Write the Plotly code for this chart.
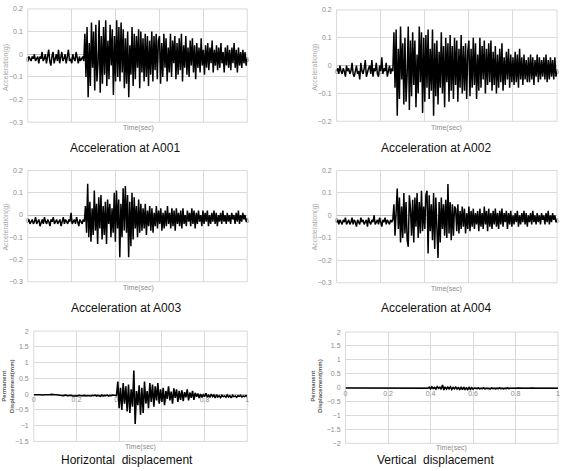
import plotly.graph_objects as go

# ---------------- data ----------------
# accelerations in hundredths of g, uniformly sampled over 0..5 s
A001_CG = [
    -3, -1, -2, -3, -1, -2, 0, -3, -2, -1, -4, -1, -2, 1, -3, -2, 0, -4, -1, 2,
    -3, -5, -1, 1, -4, -2, 0, -3, 2, -4, -1, 1, -3, -2, 0, -4, -1, 2, -3, -2,
    -4, 0, -2, -3, 1, -2, -4, -1, -3, -2, -1, -3,
    9, -10, 12, -19, 5, -14, 14, -6, 10, -16, 13, -12, -4, 15, -17, 8, -13, 12, -9, 15,
    -14, 6, -11, 13, -5, 11, -18, 8, -12, 15, -10, 12, -12, 14, -8, 11, -15, 7, -13, 10,
    -19, 4, -9, 12, -14, 9, -11, 8, -6, 11, -15, 10, -8, 7, -12, 9, -10, 8, -14, 6,
    -9, 10, -12, 8, -7, 9, -11, 6,
    8, -13, 5, -10, 9, -6, 7, -12, 3, -8, 9, -10, 6, -4, 8, -11, 5, -9, 7, -7,
    9, -12, 4, -6, 8, -9, 3, -10, 6, -5, 7, -8, 4, -11, 5, -6, 3, -8, 7, -5,
    2, -9, 4, -6, 5, -7, 3, -4, 6, -8, 2, -5, 4, -7, 3, -6, 5, -4, 1, -8,
    3, -5, 4, -6, 2, -7, 3, -4, 5, -6, 2, -8, 3, -5, 1, -6, 2, -4, 1, -5, -2,
]
A002_CG = [
    -2, -1, -3, 0, -2, -3, -1, -2, -4, 0, -2, -1, -3, -2, 1, -3, -4, -1, 0, -3,
    -2, -5, 1, -2, -3, -1, 2, -4, -2, -1, 0, -3, 2, -4, -1, -2, 1, -3, -4, 0,
    -2, 3, -3, -1, -2, 1, -4, -2, 0, -3, -1, -2,
    12, -8, 13, -18, 6, -12, 14, -5, 8, -14, 10, -13, -3, 14, -16, 9, -11, 12, -7, 9,
    -15, 4, -10, 14, -6, 12, -17, 10, -13, 11, -8, 13, -12, 6, -9, 13, -18, 8, -11, 9,
    -14, 5, -8, 12, -10, 7, -15, 10, -6, 8, -13, 11, -9, 7, -12, 10, -7, 9, -13, 6,
    -8, 11, -10, 7, -9, 8, -12, 5,
    9, -11, 6, -8, 10, -7, 8, -12, 4, -9, 10, -8, 7, -5, 9, -10, 6, -7, 8, -6,
    9, -9, 5, -7, 7, -10, 4, -8, 6, -6, 8, -9, 3, -7, 5, -5, 6, -8, 4, -6,
    3, -7, 5, -6, 4, -8, 6, -5, 3, -7, 4, -5, 2, -6, 3, -6, 4, -5, 3, -7,
    2, -4, 4, -6, 3, -5, 2, -4, 3, -5, 4, -6, 2, -5, 3, -4, 2, -5, 3, -4, -2,
]
A003_CG = [
    -3, -2, -4, -3, -2, -4, -3, -1, -4, -3, -2, -5, -3, -2, -4, -1, -3, -4, -2, -3,
    -5, -2, -3, -1, -4, -3, -2, -4, -3, -2, -5, -3, -1, -4, -2, -3, -4, -2, -3, 1,
    -4, -3, -2, -4, -1, -3, -5, -2, -3, -4, -2, -3,
    4, -8, 14, -10, 6, -12, 3, -9, 11, -7, 5, -13, 8, -6, 9, -11, 4, -9, 6, -13,
    7, -4, 5, -10, 3, -8, 10, -12, 11, -6, 7, -19, 5, -10, 12, -7, 13, -8, 9, -19,
    6, -14, 10, -11, 8, -6, 4, -10, 7, -8, 5, -7,
    3, -6, 5, -9, 2, -5, 4, -7, 3, -8, 1, -5, 4, -6, 2, -4, 3, -7, 1, -6,
    2, -5, 4, -4, 1, -6, 3, -5, 2, -7, 3, -4, 1, -5, 2, -6, 3, -4, 0, -5,
    2, -3, 1, -5, 3, -4, 2, -6, 1, -4, 2, -3, 0, -5, 2, -4, 1, -3, 2, -5,
    0, -4, 1, -3, 2, -4, 1, -5, 0, -3, 1, -4, 2, -3, 0, -4, 1, -3, 0, -4,
    1, -2, 0, -4, 1, -3, 2, -4, 0, -3, 1, -2, 0, -3, -2,
]
A004_CG = [
    -3, -2, -4, -2, -3, -4, -2, -3, -1, -4, -3, -2, -4, -3, -1, -4, -2, -3, -5, -2,
    -3, -4, -1, -3, -2, -4, -3, -2, -5, -1, -3, -4, -2, -3, 0, -4, -3, -2, -4, -1,
    -3, -5, -2, -3, -1, -4, -2, -3, -4, -2, -3, -2,
    5, -9, 6, 12, -6, 8, -12, 4, -10, 10, -8, 6, -11, -14, 9, 3, -9, 7, -12, 8,
    -5, 10, -10, 6, -8, 11, -7, 4, -6, 9, 11, -17, 9, -7, 5, -11, 10, -15, 8, -9,
    -19, 6, -12, 8, -6, 5, -9, 7, -10, 14, -8, 6, -11, 5, -9, 4,
    3, -7, 5, -8, 2, -6, 4, -5, 3, -8, 1, -6, 4, -7, 2, -5, 3, -6, 1, -4,
    2, -7, 3, -5, 1, -6, 4, -4, 2, -7, 3, -5, 1, -6, 2, -4, 3, -5, 1, -6,
    2, -4, 3, -5, 1, -3, 2, -6, 1, -4, 2, -5, 0, -4, 1, -3, 2, -5, 0, -4,
    1, -3, 2, -4, 1, -5, 0, -3, 1, -4, 2, -3, 0, -4, 1, -3, 0, -4, 1, -2,
    0, -4, 1, -3, 2, -4, 0, -3, 1, -2, 0, -3, -2,
]
# displacements in hundredths of mm, uniformly sampled over 0..1 s
HORIZ_CMM = [
    -2, -1, -2, -2, -1, -2, -3, -2, -1, -2, -2, -3, -2, -1, -2, -3, -2, -2, -3, -4,
    -3, -4, -5, -4, -3, -5, -4, -5, -4, -6, -5, -4, -5, -6, -4, -5, -6, -5, -4, -6,
    -5, -4, -5, -6, -4, -5, -3, -6, -4, -5, -7, -3, -6, -4, -5, -3, -6, -4, -5, -3,
    -4, -6, -5,
    40, -45, 20, -50, 35, -30, 25, -55, 30, -60, 15, -40, 75, -95, 10, -35, 28, -65, 20, -60,
    40, -30, 10, -45, 35, -25, 30, -40, 25, -20, 35, -30, 15, -25, 20, -35, 10, -15, 25, -20,
    8, -30, 18, -12, 15, -25, 10, -18, 12, -22, 6, -10, 15, -20, 5, -12, 10, -18, 4, -8,
    2, -12, 0, -10, -2, -8, 3, -9, -4, -10, 0, -8, -3, -12, -2, -9, -5, -11, -4, -8,
    -6, -10, -3, -9, -5, -12, -4, -8, -6, -10, -5, -7, -4, -9, -6, -8, -5, -6,
]
VERT_CMM = [
    -1, -1, -2, -1, -2, -2, -1, -2, -3, -1, -2, -2, -1, -2, -1, -3, -2, -1, -2, -2,
    -3, -2, -1, -2, -2, -1, -3, -2, -2, -1, -2, -3, -1, -2, -2, -1, -2, -3, -2, -1,
    -2, -2, -3, -1, -2, -2, -1, -3, -2, -2, -1, -2, -3, -2, -1, -2, -2, -1, -3, -2,
    -1, -2, -2,
    2, -4, 3, -3, 1, -5, 4, -2, 2, -6, 10, -8, 3, -5, 2, -4, 3, -6, 1, -4,
    2, -5, 0, -6, 1, -7, 2, -6, -1, -7, 1, -6, 0, -5, -1,
    -2, -3, -1, -4, -2, -3, -1, -4, -2, -3, -2, -4, -1, -3, -2, -4, -2, -3, -1, -3,
    -2, -4, -2, -3, -1, -3, -2, -3, -2, -2, -3, -2, -1, -2, -3, -2, -2, -1, -2, -2,
    -3, -2, -1, -2, -2, -2, -2, -1, -2, -2, -2, -2, -2, -2, -2, -2, -2, -2, -2, -2,
    -2, -2, -2,
]

ACC_DURATION = 5.0
DISP_DURATION = 1.0

CAPTIONS = ["Acceleration at A001", "Acceleration at A002",
            "Acceleration at A003", "Acceleration at A004",
            "Horizontal\u00a0 displacement", "Vertical\u00a0 displacement"]
ACC_YTITLE = "Acceleration(g)"
DISP_YTITLE = "<b>Permanent<br>Displacement(mm)</b>"
XTITLE = "Time(sec)"

ACC_XTICKS = [0, 1, 2, 3, 4, 5]
DISP_XTICKS = [0, 0.2, 0.4, 0.6, 0.8, 1]

# ---------------- layout helpers ----------------
W, H = 565, 471


def fx(px):
    return px / W


def fy(py):
    return 1 - py / H


def series(vals, duration, scale=0.01):
    n = len(vals)
    t = [duration * i / (n - 1) for i in range(n)]
    y = [v * scale for v in vals]
    return t, y


# panel geometry: (left, right, top, bottom) in px, y range, y dtick
panels = [
    dict(data=A001_CG, dur=ACC_DURATION, box=(26, 247, 5, 120), yr=(-0.3, 0.2), dt=0.1,
         xt=ACC_XTICKS, ytitle=ACC_YTITLE, yt_pos=(4, 64), xt_pos=(137, 126), cap_pos=(124, 146)),
    dict(data=A002_CG, dur=ACC_DURATION, box=(337, 559, 6, 119), yr=(-0.2, 0.2), dt=0.1,
         xt=ACC_XTICKS, ytitle=ACC_YTITLE, yt_pos=(315, 64), xt_pos=(448, 126), cap_pos=(437, 146)),
    dict(data=A003_CG, dur=ACC_DURATION, box=(26, 247, 169, 282), yr=(-0.3, 0.2), dt=0.1,
         xt=ACC_XTICKS, ytitle=ACC_YTITLE, yt_pos=(4, 226), xt_pos=(137, 288), cap_pos=(125, 309)),
    dict(data=A004_CG, dur=ACC_DURATION, box=(337, 559, 169, 283), yr=(-0.3, 0.2), dt=0.1,
         xt=ACC_XTICKS, ytitle=ACC_YTITLE, yt_pos=(315, 226), xt_pos=(448, 289), cap_pos=(437, 309)),
    dict(data=HORIZ_CMM, dur=DISP_DURATION, box=(32, 247, 332, 444), yr=(-1.5, 2), dt=0.5,
         xt=DISP_XTICKS, ytitle=DISP_YTITLE, yt_pos=(6, 388), xt_pos=(139, 450), cap_pos=(126, 463)),
    dict(data=VERT_CMM, dur=DISP_DURATION, box=(346, 560, 333, 446), yr=(-2, 2), dt=0.5,
         xt=DISP_XTICKS, ytitle=DISP_YTITLE, yt_pos=(317, 388), xt_pos=(453, 451), cap_pos=(437, 463)),
]

GRID = "#d9d9d9"
TICKCOL = "#8c8c8c"
FONT = "Liberation Sans, Arial, sans-serif"

fig = go.Figure()
layout = dict(width=W, height=H, margin=dict(l=0, r=0, t=0, b=0),
              paper_bgcolor="white", plot_bgcolor="white", showlegend=False,
              font=dict(family=FONT, color=TICKCOL, size=7))
annotations = []
shapes = []

for i, p in enumerate(panels, start=1):
    sfx = "" if i == 1 else str(i)
    l, r, t, b = p["box"]
    ymin, ymax = p["yr"]
    ydom = [fy(b), fy(t)]
    xpos = ydom[0] + (0 - ymin) / (ymax - ymin) * (ydom[1] - ydom[0])
    tx, ty = series(p["data"], p["dur"])
    fig.add_trace(go.Scatter(x=tx, y=ty, mode="lines",
                             line=dict(color="black", width=1.5 if i <= 4 else 1.6),
                             xaxis="x" + sfx, yaxis="y" + sfx, hoverinfo="skip"))
    layout["xaxis" + sfx] = dict(
        domain=[fx(l), fx(r)], range=[0, p["dur"]], anchor="free", position=xpos,
        tickvals=p["xt"], ticktext=[("%g" % v) for v in p["xt"]],
        showgrid=True, gridcolor=GRID, gridwidth=1, zeroline=False, showline=False,
        ticks="", layer="below traces", tickfont=dict(size=7, color=TICKCOL),
        fixedrange=True)
    layout["yaxis" + sfx] = dict(
        domain=ydom, range=[ymin, ymax], anchor="x" + sfx, dtick=p["dt"], tick0=0,
        showgrid=True, gridcolor=GRID, gridwidth=1, zeroline=True, zerolinecolor="#bfbfbf",
        zerolinewidth=1, showline=False, ticks="", ticklabelstandoff=4,
        tickfont=dict(size=7, color=TICKCOL), fixedrange=True)
    shapes.append(dict(type="rect", xref="x%s domain" % sfx, yref="y%s domain" % sfx,
                       x0=0, x1=1, y0=0, y1=1, line=dict(color=GRID, width=1), layer="below"))
    # y-axis title
    ytx, yty = p["yt_pos"]
    is_disp = i > 4
    annotations.append(dict(text=p["ytitle"], x=fx(ytx), y=fy(yty), xref="paper", yref="paper",
                            showarrow=False, textangle=-90, xanchor="center", yanchor="middle",
                            font=dict(size=6 if is_disp else 7,
                                      color="#595959" if is_disp else "#a6a6a6")))
    # x-axis title
    xtx, xty = p["xt_pos"]
    annotations.append(dict(text=XTITLE, x=fx(xtx), y=fy(xty), xref="paper", yref="paper",
                            showarrow=False, xanchor="center", yanchor="middle",
                            font=dict(size=7, color="#8c8c8c")))
    # caption
    cx, cy = p["cap_pos"]
    annotations.append(dict(text=CAPTIONS[i - 1], x=fx(cx), y=fy(cy), xref="paper", yref="paper",
                            showarrow=False, xanchor="center", yanchor="middle",
                            font=dict(size=12, color="#111111", family=FONT)))

layout["annotations"] = annotations
layout["shapes"] = shapes
fig.update_layout(**layout)
fig.write_html("out.html")
